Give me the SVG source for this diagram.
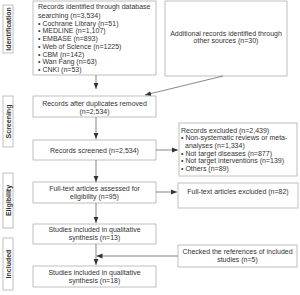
<svg xmlns="http://www.w3.org/2000/svg" width="300" height="295" viewBox="0 0 300 295">
<defs>
<marker id="ah" markerUnits="userSpaceOnUse" markerWidth="6" markerHeight="6" viewBox="0 0 6 6" refX="6" refY="3" orient="auto">
<path d="M0,0.6 L6,3 L0,5.4 Z" fill="#333"/>
</marker>
<style>
.box{fill:#fff;stroke:#b0b0b0;stroke-width:0.8}
.t{font-family:"Liberation Sans",Arial,sans-serif;font-size:7px;fill:#333}
.c{text-anchor:middle}
.st{font-family:"Liberation Sans",Arial,sans-serif;font-size:7px;font-weight:bold;fill:#333;text-anchor:middle}
.ln{fill:none;stroke:#555;stroke-width:0.7}
</style>
</defs>
<rect width="300" height="295" fill="#fff"/>
<g id="stage-identification"><rect class="box" x="3" y="5" width="10" height="48"/><text class="st" transform="translate(10.5,29) rotate(-90)">Identification</text></g>
<g id="stage-screening"><rect class="box" x="3" y="96" width="10" height="51"/><text class="st" transform="translate(10.5,121.5) rotate(-90)">Screening</text></g>
<g id="stage-eligibility"><rect class="box" x="3" y="173" width="10" height="55"/><text class="st" transform="translate(10.5,200.5) rotate(-90)">Eligibility</text></g>
<g id="stage-included"><rect class="box" x="3" y="238" width="10" height="52"/><text class="st" transform="translate(10.5,264) rotate(-90)">Included</text></g>

<g id="n-db"><rect class="box" x="33" y="1" width="123" height="74"/>
<text class="t" x="38" y="9">Records identified through database</text>
<text class="t" x="38" y="17.5">searching (n=3,534)</text>
<text class="t" x="38" y="25.5">• Cochrane Library (n=51)</text>
<text class="t" x="38" y="33.3">• MEDLINE (n=1,107)</text>
<text class="t" x="38" y="41">• EMBASE (n=893)</text>
<text class="t" x="38" y="48.8">• Web of Science (n=1225)</text>
<text class="t" x="38" y="56.6">• CBM (n=142)</text>
<text class="t" x="38" y="64.4">• Wan Fang (n=63)</text>
<text class="t" x="38" y="72.2">• CNKI (n=53)</text>
</g>
<g id="n-other"><rect class="box" x="165" y="1" width="122" height="75"/>
<text class="t c" x="226" y="35.5">Additional records identified through</text>
<text class="t c" x="226" y="43">other sources (n=30)</text>
</g>
<g id="n-dup"><rect class="box" x="33" y="96" width="123" height="21"/>
<text class="t c" x="94.5" y="106">Records after duplicates removed</text>
<text class="t c" x="94.5" y="114">(n=2,534)</text>
</g>
<g id="n-screened"><rect class="box" x="33" y="140" width="123" height="20"/>
<text class="t c" x="94.5" y="152.5">Records screened (n=2,534)</text>
</g>
<g id="n-excl"><rect class="box" x="179" y="123" width="118" height="53"/>
<text class="t" x="181" y="132.5">Records excluded (n=2,439)</text>
<text class="t" x="181" y="140.3">• Non-systematic reviews or meta-</text>
<text class="t" x="185" y="148">analyses (n=1,334)</text>
<text class="t" x="181" y="155.7">• Not target diseases (n=877)</text>
<text class="t" x="181" y="163.4">• Not target interventions (n=139)</text>
<text class="t" x="181" y="171.1">• Others (n=89)</text>
</g>
<g id="n-fulltext"><rect class="box" x="33" y="182" width="123" height="21"/>
<text class="t c" x="94.5" y="190.5">Full-text articles assessed for</text>
<text class="t c" x="94.5" y="198.5">eligibility (n=95)</text>
</g>
<g id="n-ftexcl"><rect class="box" x="178" y="183" width="120" height="25"/>
<text class="t c" x="238" y="194">Full-text articles excluded (n=82)</text>
</g>
<g id="n-qual13"><rect class="box" x="33" y="224" width="123" height="20"/>
<text class="t c" x="94.5" y="232">Studies included in qualitative</text>
<text class="t c" x="94.5" y="240">synthesis (n=13)</text>
</g>
<g id="n-refs"><rect class="box" x="178" y="245" width="119" height="22"/>
<text class="t c" x="237.5" y="254">Checked the references of included</text>
<text class="t c" x="237.5" y="262">studies (n=5)</text>
</g>
<g id="n-qual18"><rect class="box" x="33" y="266" width="123" height="21"/>
<text class="t c" x="94.5" y="275">Studies included in qualitative</text>
<text class="t c" x="94.5" y="283">synthesis (n=18)</text>
</g>

<g id="connectors">
<path class="ln" d="M96,75 V89" marker-end="url(#ah)"/>
<path class="ln" d="M223,76 L145,95" marker-end="url(#ah)"/>
<path class="ln" d="M96,117 V139" marker-end="url(#ah)"/>
<path class="ln" d="M156,150 H178" marker-end="url(#ah)"/>
<path class="ln" d="M96,160 V182" marker-end="url(#ah)"/>
<path class="ln" d="M156,192 H177" marker-end="url(#ah)"/>
<path class="ln" d="M96,203 V223" marker-end="url(#ah)"/>
<path class="ln" d="M96,244 V265" marker-end="url(#ah)"/>
<path class="ln" d="M178,256 H96.5" marker-end="url(#ah)"/>
</g>
</svg>
